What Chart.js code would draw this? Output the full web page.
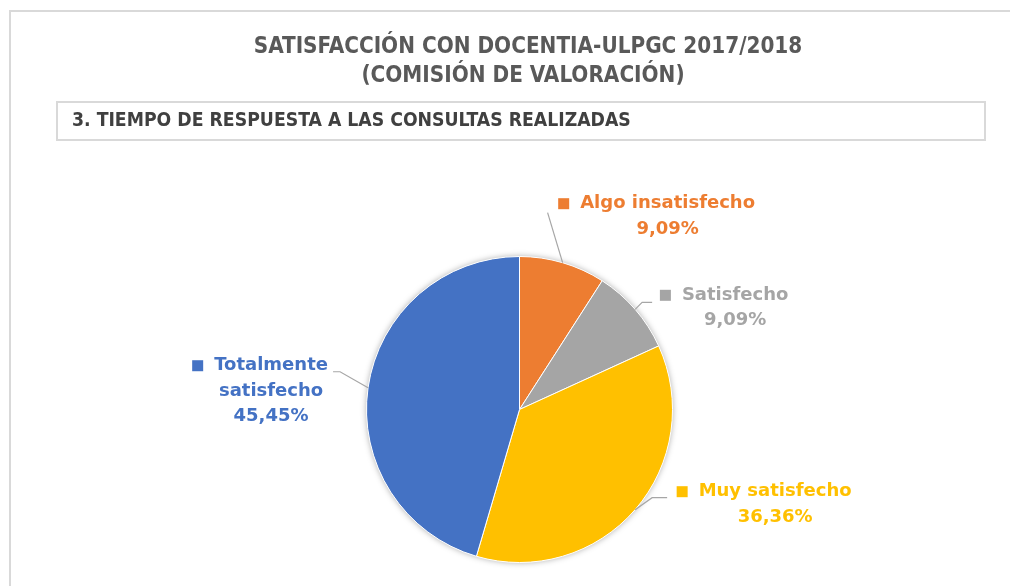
<!DOCTYPE html>
<html lang="es">
<head>
<meta charset="utf-8">
<title>Satisfacción con DOCENTIA-ULPGC 2017/2018</title>
<script src="https://cdn.jsdelivr.net/npm/chart.js@4.4.1/dist/chart.umd.min.js"></script>
<style>
    html, body { margin: 0; padding: 0; background: #fff; }
    #contenedor { position: relative; width: 1010px; height: 586px; }
</style>
</head>
<body>
<div id="contenedor">
    <canvas id="myChart" width="1010" height="586"></canvas>
</div>
<script>
// Datos de la gráfica
const categorias = ['Algo insatisfecho', 'Satisfecho', 'Muy satisfecho', 'Totalmente satisfecho'];
const porcentajes = [9.09, 9.09, 36.36, 45.45];
const etiquetasLineas = [['Algo insatisfecho'], ['Satisfecho'], ['Muy satisfecho'], ['Totalmente', 'satisfecho']];
const titulo = ['SATISFACCIÓN CON DOCENTIA-ULPGC 2017/2018', '(COMISIÓN DE VALORACIÓN)'];
const subtitulo = '3. TIEMPO DE RESPUESTA A LAS CONSULTAS REALIZADAS';

// Colores de Excel
const colores = ['#ED7D31', '#A5A5A5', '#FFC000', '#4472C4'];

// Desplazamiento de cada etiqueta respecto al borde del sector (texto y línea guía)
const posEtiquetas = [
    { dx: 105, dy: -59, guia: [[-15, -50]] },
    { dx: 100, dy: -14, guia: [[7, -7], [17, -7]] },
    { dx: 140, dy: -18, guia: [[17, -12], [32, -12]] },
    { dx: -97, dy: -22, guia: [[-28, -16], [-35, -16]] }
];

const formatoPct = v => v.toFixed(2).replace('.', ',') + '%';

// Ajusta el tamaño de letra para que el texto ocupe el ancho deseado
function fuenteAjustada(ctx, texto, estilo, ancho) {
    ctx.font = estilo.replace('{px}', '20px');
    const w = ctx.measureText(texto).width;
    const px = 20 * ancho / w;
    ctx.font = estilo.replace('{px}', px.toFixed(2) + 'px');
    return px;
}

// Marco, título y recuadro del subtítulo
const marcoPlugin = {
    id: 'marco',
    beforeDraw(chart) {
        const ctx = chart.ctx;
        ctx.save();
        ctx.fillStyle = '#fff';
        ctx.fillRect(0, 0, chart.width, chart.height);
        ctx.fillStyle = '#D9D9D9';
        ctx.fillRect(9, 10, chart.width - 9, 2);
        ctx.fillRect(9, 10, 2, chart.height - 10);

        ctx.fillStyle = '#595959';
        ctx.textAlign = 'center';
        ctx.textBaseline = 'middle';
        const estiloTitulo = 'bold {px} "DejaVu Sans Condensed"';
        const px = fuenteAjustada(ctx, titulo[0], estiloTitulo, 549);
        ctx.fillText(titulo[0], 528, 47);
        ctx.font = estiloTitulo.replace('{px}', px.toFixed(2) + 'px');
        ctx.fillText(titulo[1], 523, 76);

        ctx.strokeStyle = '#D9D9D9';
        ctx.lineWidth = 2;
        ctx.strokeRect(57, 102, 928, 38);
        ctx.fillStyle = '#404040';
        ctx.textAlign = 'left';
        fuenteAjustada(ctx, subtitulo, 'bold {px} "DejaVu Sans Condensed"', 559);
        ctx.fillText(subtitulo, 72, 121);
        ctx.restore();
    },
    beforeDatasetsDraw(chart) {
        // Sombra suave bajo la tarta
        const arco = chart.getDatasetMeta(0).data[0];
        if (!arco) return;
        const ctx = chart.ctx;
        ctx.save();
        ctx.shadowColor = 'rgba(0,0,0,0.35)';
        ctx.shadowBlur = 6;
        ctx.beginPath();
        ctx.arc(arco.x, arco.y, arco.outerRadius, 0, Math.PI * 2);
        ctx.fillStyle = '#fff';
        ctx.fill();
        ctx.restore();
    }
};

// Etiquetas con líneas guía
const etiquetasPlugin = {
    id: 'etiquetas',
    afterDatasetsDraw(chart) {
        const ctx = chart.ctx;
        const meta = chart.getDatasetMeta(0);
        ctx.save();
        meta.data.forEach((arco, i) => {
            const medio = (arco.startAngle + arco.endAngle) / 2;
            const ax = arco.x + Math.cos(medio) * arco.outerRadius;
            const ay = arco.y + Math.sin(medio) * arco.outerRadius;
            const p = posEtiquetas[i];

            // Línea guía
            ctx.strokeStyle = '#A6A6A6';
            ctx.lineWidth = 1.2;
            ctx.beginPath();
            ctx.moveTo(ax, ay);
            p.guia.forEach(([gx, gy]) => ctx.lineTo(ax + gx, ay + gy));
            ctx.stroke();

            // Texto
            const lineas = etiquetasLineas[i].concat([formatoPct(porcentajes[i])]);
            const cx = ax + p.dx;
            let cy = ay + p.dy;
            ctx.font = 'bold 18px "DejaVu Sans"';
            ctx.fillStyle = colores[i];
            ctx.textAlign = 'center';
            ctx.textBaseline = 'middle';
            lineas.forEach((txt, j) => {
                ctx.fillText(txt, cx, cy + j * 25.5);
                if (j === 0) {
                    const ancho = ctx.measureText(txt).width;
                    ctx.fillRect(cx - ancho / 2 - 22, cy - 5.5, 11, 11);
                }
            });
        });
        ctx.restore();
    }
};

const ctx = document.getElementById('myChart').getContext('2d');
new Chart(ctx, {
    type: 'pie',
    data: {
        labels: categorias,
        datasets: [{
            data: porcentajes,
            backgroundColor: colores,
            borderColor: '#fff',
            borderWidth: 1
        }]
    },
    options: {
        responsive: false,
        animation: false,
        layout: { padding: { top: 256, bottom: 23, left: 200, right: 171 } },
        plugins: {
            legend: { display: false },
            tooltip: { enabled: false }
        }
    },
    plugins: [marcoPlugin, etiquetasPlugin]
});
</script>
</body>
</html>
